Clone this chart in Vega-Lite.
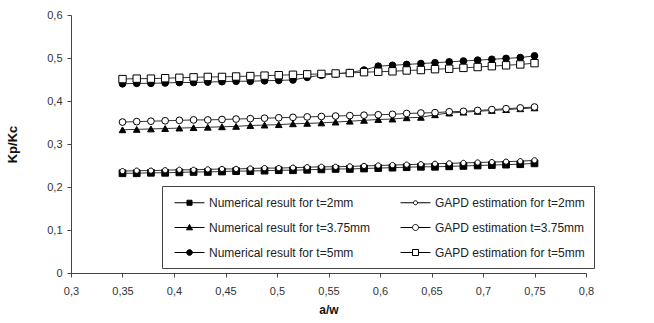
{
  "$schema": "https://vega.github.io/schema/vega-lite/v6.json",
  "width": 515,
  "height": 258,
  "autosize": {"type": "none"},
  "padding": {"left": 71, "top": 15, "right": 68, "bottom": 50},
  "background": "white",
  "config": {"view": {"stroke": null}, "font": "Liberation Sans"},
  "data": {"values": [
    {"x": 0.35, "N2": 0.232, "G2": 0.237, "N375": 0.333, "G375": 0.351, "N5": 0.440, "G5": 0.451},
    {"x": 0.3638, "N2": 0.232, "G2": 0.238, "N375": 0.334, "G375": 0.352, "N5": 0.441, "G5": 0.452},
    {"x": 0.3776, "N2": 0.233, "G2": 0.238, "N375": 0.335, "G375": 0.353, "N5": 0.441, "G5": 0.452},
    {"x": 0.3914, "N2": 0.233, "G2": 0.239, "N375": 0.336, "G375": 0.354, "N5": 0.442, "G5": 0.453},
    {"x": 0.4052, "N2": 0.234, "G2": 0.240, "N375": 0.337, "G375": 0.355, "N5": 0.443, "G5": 0.454},
    {"x": 0.4190, "N2": 0.235, "G2": 0.240, "N375": 0.338, "G375": 0.356, "N5": 0.443, "G5": 0.455},
    {"x": 0.4328, "N2": 0.235, "G2": 0.241, "N375": 0.339, "G375": 0.356, "N5": 0.444, "G5": 0.456},
    {"x": 0.4466, "N2": 0.236, "G2": 0.242, "N375": 0.340, "G375": 0.357, "N5": 0.445, "G5": 0.456},
    {"x": 0.4603, "N2": 0.237, "G2": 0.242, "N375": 0.341, "G375": 0.358, "N5": 0.446, "G5": 0.457},
    {"x": 0.4741, "N2": 0.237, "G2": 0.243, "N375": 0.343, "G375": 0.359, "N5": 0.446, "G5": 0.458},
    {"x": 0.4879, "N2": 0.238, "G2": 0.244, "N375": 0.344, "G375": 0.360, "N5": 0.447, "G5": 0.459},
    {"x": 0.5017, "N2": 0.239, "G2": 0.244, "N375": 0.345, "G375": 0.361, "N5": 0.448, "G5": 0.460},
    {"x": 0.5155, "N2": 0.239, "G2": 0.245, "N375": 0.347, "G375": 0.362, "N5": 0.449, "G5": 0.461},
    {"x": 0.5293, "N2": 0.240, "G2": 0.246, "N375": 0.348, "G375": 0.363, "N5": 0.455, "G5": 0.462},
    {"x": 0.5431, "N2": 0.241, "G2": 0.247, "N375": 0.349, "G375": 0.364, "N5": 0.460, "G5": 0.463},
    {"x": 0.5569, "N2": 0.242, "G2": 0.247, "N375": 0.351, "G375": 0.365, "N5": 0.463, "G5": 0.464},
    {"x": 0.5707, "N2": 0.242, "G2": 0.248, "N375": 0.353, "G375": 0.366, "N5": 0.466, "G5": 0.465},
    {"x": 0.5845, "N2": 0.243, "G2": 0.249, "N375": 0.355, "G375": 0.367, "N5": 0.472, "G5": 0.467},
    {"x": 0.5983, "N2": 0.244, "G2": 0.250, "N375": 0.357, "G375": 0.368, "N5": 0.481, "G5": 0.468},
    {"x": 0.6121, "N2": 0.245, "G2": 0.251, "N375": 0.358, "G375": 0.369, "N5": 0.483, "G5": 0.469},
    {"x": 0.6259, "N2": 0.246, "G2": 0.252, "N375": 0.361, "G375": 0.371, "N5": 0.485, "G5": 0.471},
    {"x": 0.6397, "N2": 0.247, "G2": 0.253, "N375": 0.362, "G375": 0.372, "N5": 0.487, "G5": 0.472},
    {"x": 0.6534, "N2": 0.247, "G2": 0.254, "N375": 0.368, "G375": 0.373, "N5": 0.489, "G5": 0.474},
    {"x": 0.6672, "N2": 0.248, "G2": 0.255, "N375": 0.372, "G375": 0.375, "N5": 0.491, "G5": 0.475},
    {"x": 0.6810, "N2": 0.249, "G2": 0.256, "N375": 0.374, "G375": 0.376, "N5": 0.493, "G5": 0.477},
    {"x": 0.6948, "N2": 0.250, "G2": 0.257, "N375": 0.376, "G375": 0.378, "N5": 0.495, "G5": 0.479},
    {"x": 0.7086, "N2": 0.251, "G2": 0.258, "N375": 0.378, "G375": 0.380, "N5": 0.497, "G5": 0.481},
    {"x": 0.7224, "N2": 0.252, "G2": 0.259, "N375": 0.380, "G375": 0.382, "N5": 0.499, "G5": 0.483},
    {"x": 0.7362, "N2": 0.253, "G2": 0.260, "N375": 0.382, "G375": 0.384, "N5": 0.501, "G5": 0.485},
    {"x": 0.75, "N2": 0.255, "G2": 0.262, "N375": 0.384, "G375": 0.386, "N5": 0.505, "G5": 0.488}
  ]},
  "transform": [
    {"fold": ["N2", "G2", "N375", "G375", "N5", "G5"], "as": ["series", "value"]}
  ],
  "encoding": {
    "x": {
      "field": "x", "type": "quantitative",
      "scale": {"domain": [0.3, 0.8], "nice": false, "zero": false},
      "axis": {
        "values": [0.3, 0.35, 0.4, 0.45, 0.5, 0.55, 0.6, 0.65, 0.7, 0.75, 0.8],
        "labelExpr": "replace(format(datum.value, '.2~f'), '.', ',')",
        "grid": false, "title": "a/w", "titleFontSize": 12, "titleFontWeight": "bold",
        "titleColor": "#111", "titlePadding": 8,
        "labelFontSize": 11, "labelColor": "#333", "labelPadding": 8,
        "tickSize": 4, "tickColor": "#444", "domainColor": "#444", "labelFlush": false
      }
    },
    "y": {
      "field": "value", "type": "quantitative",
      "scale": {"domain": [0, 0.6], "nice": false},
      "axis": {
        "values": [0, 0.1, 0.2, 0.3, 0.4, 0.5, 0.6],
        "labelExpr": "datum.value == 0 ? '0' : replace(format(datum.value, '.1f'), '.', ',')",
        "grid": false, "title": "Kp/Kc", "titleFontSize": 13, "titleFontWeight": "bold",
        "titleColor": "#111", "titlePadding": 27,
        "labelFontSize": 11, "labelColor": "#333", "labelPadding": 5,
        "tickSize": 4, "tickColor": "#444", "domainColor": "#444"
      }
    }
  },
  "resolve": {
    "scale": {"shape": "independent", "fill": "independent", "stroke": "independent"},
    "legend": {"shape": "independent", "fill": "independent", "stroke": "independent"}
  },
  "layer": [
    {
      "mark": {"type": "line", "color": "#333", "strokeWidth": 1},
      "encoding": {"detail": {"field": "series"}}
    },
    {
      "mark": {"type": "point", "filled": true, "size": 45, "stroke": "black", "strokeWidth": 1, "opacity": 1, "fillOpacity": 1, "strokeOpacity": 1},
      "encoding": {
        "shape": {
          "field": "series", "type": "nominal",
          "scale": {
            "domain": ["N2", "N375", "N5", "G2", "G375", "G5"],
            "range": ["square", "triangle-up", "circle", "M0.78,0A0.78,0.78,0,1,1,-0.78,0A0.78,0.78,0,1,1,0.78,0Z", "circle", "M-1.1,-1.1H1.1V1.1H-1.1Z"]
          },
          "legend": null
        },
        "fill": {
          "field": "series", "type": "nominal",
          "scale": {
            "domain": ["N2", "N375", "N5", "G2", "G375", "G5"],
            "range": ["black", "black", "black", "white", "white", "white"]
          },
          "legend": null
        }
      }
    },
    {
      "transform": [{"filter": "datum.x > 1"}],
      "mark": {"type": "point", "filled": false, "strokeWidth": 1, "opacity": 1},
      "encoding": {
        "shape": {
          "field": "series", "type": "nominal",
          "scale": {
            "domain": ["N2", "N375", "N5", "G2", "G375", "G5"],
            "range": [
              "M-2.14,0H2.14M-0.36,-0.36H0.36V0.36H-0.36Z",
              "M-2.14,0H2.14M0,-0.45L0.43,0.33H-0.43Z",
              "M-2.14,0H2.14M0.41,0A0.41,0.41,0,1,1,-0.41,0A0.41,0.41,0,1,1,0.41,0Z",
              "M-2.14,0H-0.29M0.29,0H2.14M0.29,0A0.29,0.29,0,1,1,-0.29,0A0.29,0.29,0,1,1,0.29,0Z",
              "M-2.14,0H-0.43M0.43,0H2.14M0.43,0A0.43,0.43,0,1,1,-0.43,0A0.43,0.43,0,1,1,0.43,0Z",
              "M-2.14,0H-0.43M0.43,0H2.14M-0.43,-0.43H0.43V0.43H-0.43Z"
            ]
          },
          "legend": {
            "orient": "none", "legendX": 91, "legendY": 171, "columns": 2,
            "columnPadding": 26, "rowPadding": 11, "padding": 9, "symbolOffset": 11,
            "strokeColor": "#444", "fillColor": "white", "symbolSize": 196,
            "symbolStrokeWidth": 1,
            "labelFont": "Liberation Sans", "labelFontSize": 12, "labelColor": "#222", "labelOffset": 12, "labelLimit": 400,
            "title": null,
            "labelExpr": "datum.value == 'N2' ? 'Numerical result for t=2mm' : datum.value == 'G2' ? 'GAPD estimation for t=2mm' : datum.value == 'N375' ? 'Numerical result for t=3.75mm' : datum.value == 'G375' ? 'GAPD estimation t=3.75mm' : datum.value == 'N5' ? 'Numerical result for t=5mm' : 'GAPD estimation for t=5mm'"
          }
        },
        "fill": {
          "field": "series", "type": "nominal",
          "scale": {
            "domain": ["N2", "N375", "N5", "G2", "G375", "G5"],
            "range": ["black", "black", "black", "white", "white", "white"]
          },
          "legend": {
            "orient": "none", "legendX": 91, "legendY": 171, "columns": 2,
            "columnPadding": 26, "rowPadding": 11, "padding": 9, "symbolOffset": 11,
            "strokeColor": "#444", "fillColor": "white", "symbolSize": 196,
            "symbolStrokeWidth": 1,
            "labelFont": "Liberation Sans", "labelFontSize": 12, "labelColor": "#222", "labelOffset": 12, "labelLimit": 400,
            "title": null,
            "labelExpr": "datum.value == 'N2' ? 'Numerical result for t=2mm' : datum.value == 'G2' ? 'GAPD estimation for t=2mm' : datum.value == 'N375' ? 'Numerical result for t=3.75mm' : datum.value == 'G375' ? 'GAPD estimation t=3.75mm' : datum.value == 'N5' ? 'Numerical result for t=5mm' : 'GAPD estimation for t=5mm'"
          }
        },
        "stroke": {
          "field": "series", "type": "nominal",
          "scale": {
            "domain": ["N2", "N375", "N5", "G2", "G375", "G5"],
            "range": ["black", "black", "black", "black", "black", "black"]
          },
          "legend": {
            "orient": "none", "legendX": 91, "legendY": 171, "columns": 2,
            "columnPadding": 26, "rowPadding": 11, "padding": 9, "symbolOffset": 11,
            "strokeColor": "#444", "fillColor": "white", "symbolSize": 196,
            "symbolStrokeWidth": 1,
            "labelFont": "Liberation Sans", "labelFontSize": 12, "labelColor": "#222", "labelOffset": 12, "labelLimit": 400,
            "title": null,
            "labelExpr": "datum.value == 'N2' ? 'Numerical result for t=2mm' : datum.value == 'G2' ? 'GAPD estimation for t=2mm' : datum.value == 'N375' ? 'Numerical result for t=3.75mm' : datum.value == 'G375' ? 'GAPD estimation t=3.75mm' : datum.value == 'N5' ? 'Numerical result for t=5mm' : 'GAPD estimation for t=5mm'"
          }
        }
      }
    }
  ]
}
